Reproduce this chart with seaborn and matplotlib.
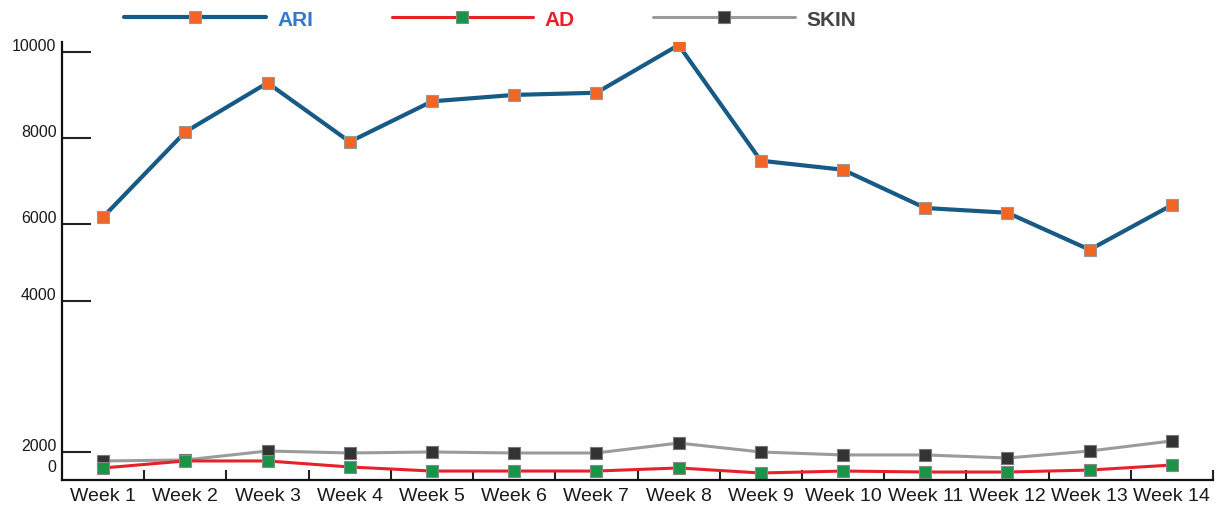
import numpy as np
import pandas as pd
import matplotlib
matplotlib.use("Agg")
import matplotlib.pyplot as plt
import matplotlib.transforms as mtransforms
import seaborn as sns

# data
weeks = ["Week 1", "Week 2", "Week 3", "Week 4", "Week 5", "Week 6", "Week 7",
         "Week 8", "Week 9", "Week 10", "Week 11", "Week 12", "Week 13", "Week 14"]
ari = [6160, 8140, 9280, 7910, 8850, 9000, 9050, 10160, 7470, 7260, 6370, 6260, 5330, 6440]
ad = [860, 1360, 1360, 930, 640, 640, 640, 860, 500, 640, 570, 570, 710, 1070]
skin = [1360, 1430, 2070, 1930, 2000, 1930, 1930, 2640, 2000, 1790, 1790, 1570, 2070, 2790]

y_ticks = [0, 2000, 4000, 6000, 8000, 10000]

# the original axis is not evenly spaced (bottom part squashed), so use a piecewise scale
knot_vals = [0, 2000, 3000, 4000, 6000, 8000, 10000, 12000]
knot_pos = [0, 28, 42, 179, 256, 342, 428, 514]


def fwd(v):
    return np.interp(v, knot_vals, knot_pos)


def inv(p):
    return np.interp(p, knot_pos, knot_vals)


df = pd.DataFrame({"week": weeks, "ARI": ari, "AD": ad, "SKIN": skin})

sns.set_style("white")
plt.rcParams["font.family"] = ["Liberation Sans", "DejaVu Sans"]

fig = plt.figure(figsize=(12.21, 5.06), dpi=100)
ax = fig.add_axes([62 / 1221, 25 / 506, (1213 - 62) / 1221, (481 - 43) / 506])
ax.set_yscale("function", functions=(fwd, inv))

sns.lineplot(data=df, x="week", y="SKIN", ax=ax, color="#9b9b9b", linewidth=2.2,
             marker="s", markersize=9, markerfacecolor="#333333",
             markeredgecolor="#777777", markeredgewidth=0.8, sort=False, label="SKIN")
sns.lineplot(data=df, x="week", y="AD", ax=ax, color="#e8202a", linewidth=2.2,
             marker="s", markersize=9, markerfacecolor="#1a9548",
             markeredgecolor="#888888", markeredgewidth=0.8, sort=False, label="AD")
sns.lineplot(data=df, x="week", y="ARI", ax=ax, color="#175a86", linewidth=3,
             marker="s", markersize=9, markerfacecolor="#f26522",
             markeredgecolor="#999999", markeredgewidth=0.8, sort=False, label="ARI")

ax.set_xlim(-0.5, 13.5)
ax.set_ylim(0, 10230)
ax.set_xlabel("")
ax.set_ylabel("")

for s in ["top", "right"]:
    ax.spines[s].set_visible(False)
for s in ["left", "bottom"]:
    ax.spines[s].set_color("#111111")
    ax.spines[s].set_linewidth(1.6)

# y ticks, labels sit a little above their marks like the original
ax.set_yticks(y_ticks)
ax.set_yticklabels([str(t) for t in y_ticks])
ax.tick_params(axis="y", direction="in", length=21, width=1.5, color="#222222",
               pad=4, labelsize=11.5, labelcolor="#1a1a1a", left=True)
yt = ax.yaxis.get_major_ticks()
yt[0].tick1line.set_visible(False)
for i, t in enumerate(yt):
    lab = t.label1
    dy = 0.15 if i == 0 else 0.075
    lab.set_transform(lab.get_transform() +
                      mtransforms.ScaledTranslation(0, dy, fig.dpi_scale_trans))

# x ticks: labels at weeks, small marks between them
ax.set_xticks(range(len(weeks)))
ax.set_xticklabels(weeks)
ax.set_xticks(np.arange(0.5, len(weeks), 1), minor=True)
ax.tick_params(axis="x", which="major", length=0, pad=5, labelsize=14,
               labelcolor="#1a1a1a", bottom=True)
ax.tick_params(axis="x", which="minor", direction="in", length=7, width=1.5,
               color="#222222", bottom=True)

# legend across the top
ax.get_legend().remove()
handles, labels = ax.get_legend_handles_labels()
order = [labels.index(n) for n in ["ARI", "AD", "SKIN"]]
leg = fig.legend([handles[i] for i in order], [labels[i] for i in order],
                 loc="center left", bbox_to_anchor=(114 / 1221, 1 - 20 / 506),
                 ncol=3, frameon=False, handlelength=6.8, handletextpad=0.55,
                 columnspacing=3.75, borderpad=0,
                 prop={"weight": "bold", "size": 15})
for t, c in zip(leg.get_texts(), ["#2f7bcb", "#e8202a", "#444444"]):
    t.set_color(c)

fig.savefig("out.png", dpi=100)
